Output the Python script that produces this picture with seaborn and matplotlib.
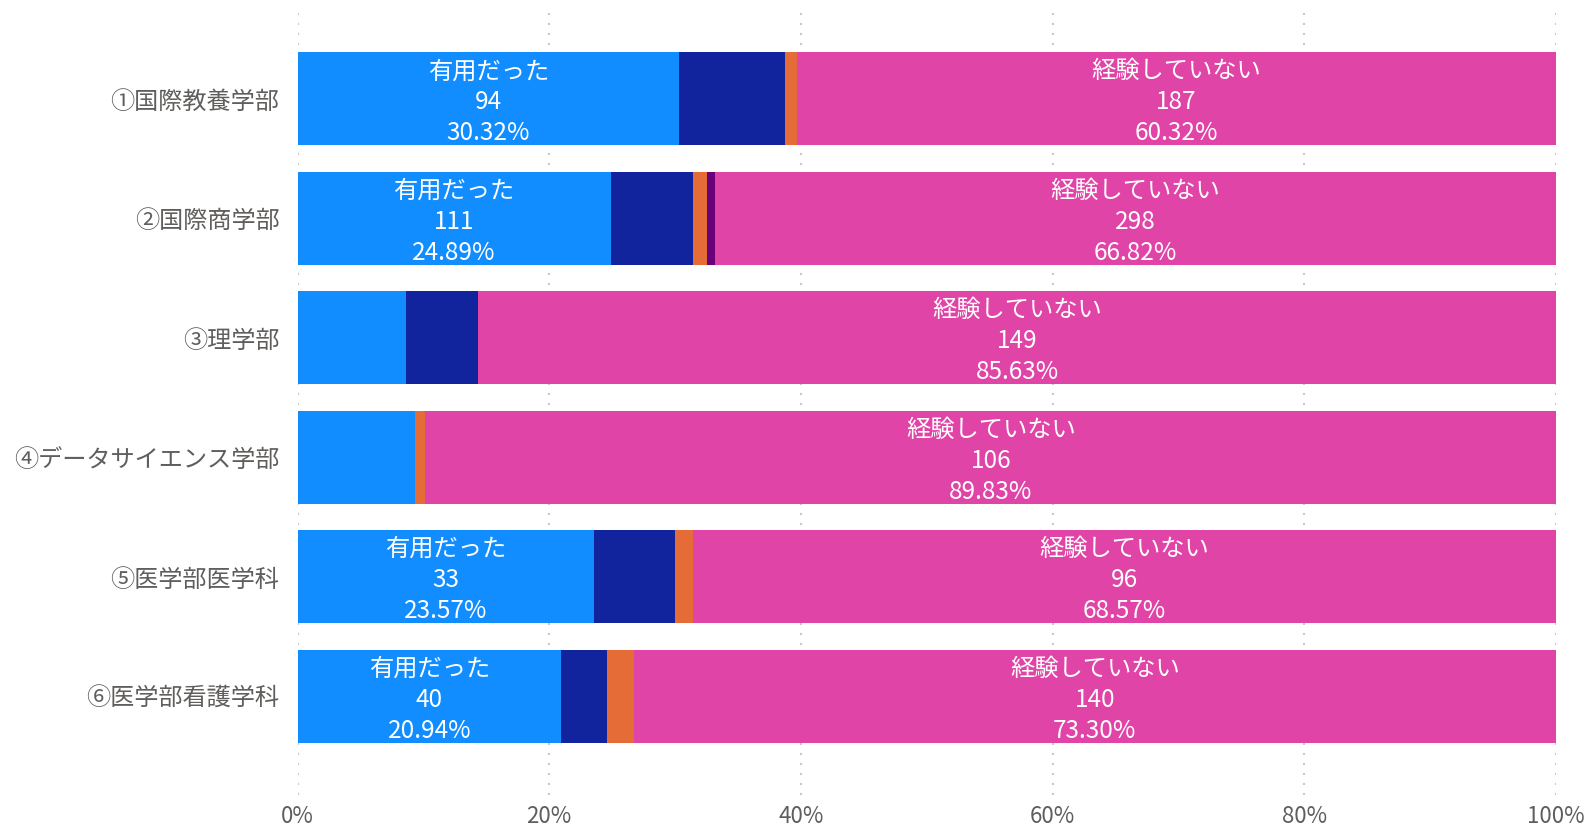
import numpy as np
import pandas as pd
import matplotlib
matplotlib.use("Agg")
import matplotlib.pyplot as plt
import seaborn as sns

# data (counts per department)
departments = ["①国際教養学部", "②国際商学部", "③理学部",
               "④データサイエンス学部", "⑤医学部医学科", "⑥医学部看護学科"]
categories = ["有用だった", "有用ではなかった", "わからない", "無回答", "経験していない"]
useful = [94, 111, 15, 11, 33, 40]
not_useful = [26, 29, 10, 0, 9, 7]
unknown = [3, 5, 0, 1, 2, 4]
no_answer = [0, 3, 0, 0, 0, 0]
not_experienced = [187, 298, 149, 106, 96, 140]

colors = ["#118DFF", "#12239E", "#E66C37", "#6B007B", "#E044A7"]
labelled = ["有用だった", "経験していない"]

counts = pd.DataFrame(
    dict(zip(categories, [useful, not_useful, unknown, no_answer, not_experienced])),
    index=departments,
)
totals = counts.sum(axis=1)
pct = counts.div(totals, axis=0) * 100
cum = pct.cumsum(axis=1)

sns.set_theme(style="white")
plt.rcParams["font.family"] = ["Noto Sans CJK JP", "DejaVu Sans"]

fig = plt.figure(figsize=(15.91, 8.25), dpi=100)
ax = fig.add_axes([0.187, 0.036, 0.791, 0.9515])

# stacked bars: draw cumulative totals from the last category backwards
for cat, col in reversed(list(zip(categories, colors))):
    sns.barplot(x=cum[cat].values, y=departments, orient="h", color=col,
                saturation=1, width=0.78, linewidth=0, ax=ax)

# segment labels (only on wide segments)
for i, dept in enumerate(departments):
    for cat in labelled:
        p = pct.loc[dept, cat]
        if p < 15:
            continue
        mid = cum.loc[dept, cat] - p / 2
        ax.annotate(f"{cat}\n{counts.loc[dept, cat]}\n{p:.2f}%",
                    (mid, i), xytext=(0, -2.5), textcoords="offset points",
                    ha="center", va="center", color="white", fontsize=17.5,
                    linespacing=1.25)

ax.set_xlim(0, 100)
ax.set_ylim(5.83, -0.74)
ax.set_xticks(np.arange(0, 101, 20))
ax.set_xticklabels([f"{v}%" for v in range(0, 101, 20)])
ax.set_xlabel("")
ax.set_ylabel("")
ax.grid(axis="x", color="#c8c8c8", linestyle=(0, (1, 3.8)), linewidth=1.5)
ax.grid(axis="y", visible=False)
ax.set_axisbelow(True)
sns.despine(ax=ax, left=True, bottom=True)
ax.tick_params(axis="y", length=0, pad=13, labelsize=17.4, labelcolor="#605E5C")
ax.tick_params(axis="x", length=0, pad=7, labelsize=16, labelcolor="#605E5C")

fig.savefig("out.png", dpi=100)
